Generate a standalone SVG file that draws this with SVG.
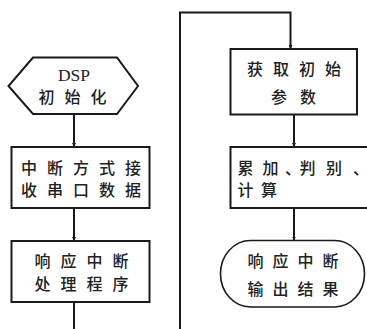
<svg xmlns="http://www.w3.org/2000/svg" width="367" height="329" viewBox="0 0 367 329">
<style>
.shape{fill:#fff;stroke:#1a1a1a;stroke-width:2}
.thin{fill:#fff;stroke:#1a1a1a;stroke-width:1.6}
.conn{fill:none;stroke:#1a1a1a;stroke-width:2}
.cjk{font-family:"Noto Sans CJK SC","Noto Sans",sans-serif;font-size:16px;font-weight:500;fill:#222;letter-spacing:10px}
.lat{font-family:"Liberation Serif",serif;font-size:17.5px;fill:#222}
</style>
<defs>
<marker id="ah" markerUnits="userSpaceOnUse" markerWidth="4" markerHeight="4" refX="4" refY="2" orient="auto">
<path d="M0,0 L4,2 L0,4 z" fill="#1a1a1a"/>
</marker>
</defs>
<rect width="367" height="329" fill="#fff"/>
<g id="connectors">
<line class="conn" x1="74" y1="114" x2="74" y2="147" marker-end="url(#ah)"/>
<line class="conn" x1="74" y1="208" x2="74" y2="241" marker-end="url(#ah)"/>
<line class="conn" x1="74" y1="302" x2="74" y2="329"/>
<polyline class="conn" points="180,329 180,12.5 290.5,12.5 290.5,49" marker-end="url(#ah)"/>
<line class="conn" x1="294" y1="114.5" x2="294" y2="147" marker-end="url(#ah)"/>
<line class="conn" x1="294" y1="208" x2="294" y2="240.5" marker-end="url(#ah)"/>
</g>
<g id="n-init">
<polygon class="shape" points="33,57.5 117,57.5 138,86 117,114 33,114 8.5,86"/>
<text class="lat" x="74" y="80.5" text-anchor="middle">DSP</text>
<text class="cjk" x="38.5" y="102.5">初始化</text>
</g>
<g id="n-recv">
<rect class="shape" x="11.5" y="147" width="138" height="61"/>
<text class="cjk" x="21" y="174">中断方式接</text>
<text class="cjk" x="21" y="196">收串口数据</text>
</g>
<g id="n-isr">
<rect class="shape" x="11.5" y="241" width="138" height="61"/>
<text class="cjk" x="34.5" y="267">响应中断</text>
<text class="cjk" x="34.5" y="290">处理程序</text>
</g>
<g id="n-param">
<rect class="shape" x="230.5" y="49" width="126.5" height="65.5"/>
<text class="cjk" x="247" y="75">获取初始</text>
<text class="cjk" x="271" y="103" style="letter-spacing:13px">参数</text>
</g>
<g id="n-calc">
<rect class="shape" x="230.5" y="147" width="140" height="61"/>
<text class="cjk" style="letter-spacing:0" x="237.5 262.5 285 299.5 326 353" y="174">累加、判别、</text>
<text class="cjk" style="letter-spacing:0" x="237.5 261" y="196">计算</text>
</g>
<g id="n-out">
<rect class="thin" x="220.5" y="240.5" width="144" height="66.5" rx="30" ry="33"/>
<text class="cjk" x="247.5" y="267" style="letter-spacing:9px">响应中断</text>
<text class="cjk" x="247.5" y="295" style="letter-spacing:9px">输出结果</text>
</g>
</svg>
